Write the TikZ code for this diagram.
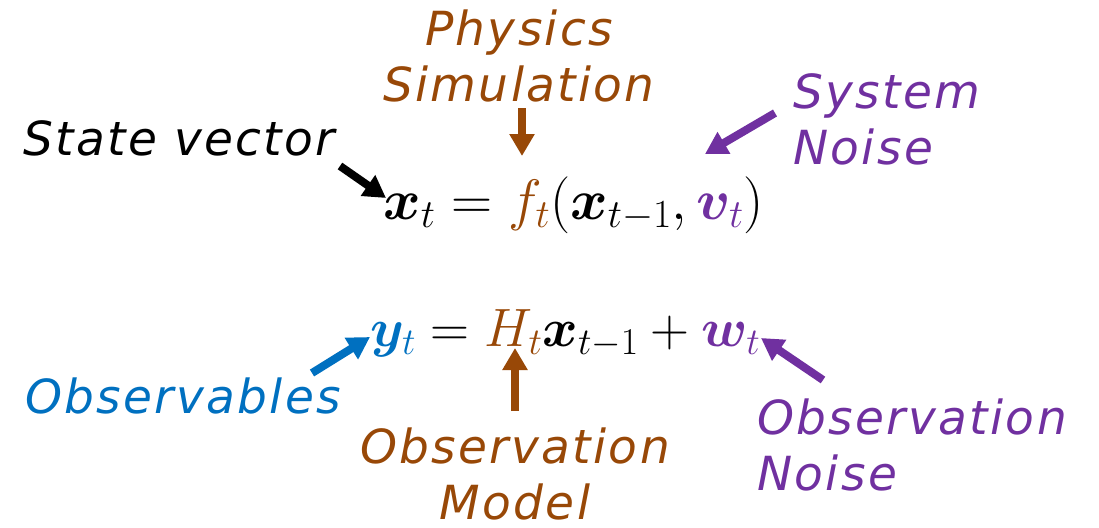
\RequirePackage{fix-cm}
\documentclass[tikz,border=0pt]{standalone}
\usepackage{amsmath}
\usepackage{bm}
\usepackage{fontspec}
\newfontfamily\handfont{DejaVu Sans}[LetterSpace=5]
\usetikzlibrary{arrows.meta}
\definecolor{brn}{HTML}{984807}
\definecolor{pur}{HTML}{7030A0}
\definecolor{blu}{HTML}{0070C0}
\tikzset{
  lbl/.style={inner sep=0pt, font=\handfont\itshape\fontsize{47}{56}\selectfont},
  eqn/.style={inner sep=0pt, font=\fontsize{57}{66}\selectfont},
  eqnb/.style={inner sep=0pt, font=\fontsize{54}{64}\selectfont},
  bigarrow/.style={line width=8pt, -{Triangle[width=24pt,length=22pt]}},
}
\begin{document}
\begin{tikzpicture}[x=1pt,y=-1pt]
\useasboundingbox (0,0) rectangle (1099,527);
% equations
\node[eqn, anchor=base west] (eq1) at (383,219)
  {$\bm{x}_t = {\color{brn}f_t}(\bm{x}_{t-1},{\color{pur}\bm{v}_t})$};
\node[eqnb, anchor=base west] (eq2) at (370,346)
  {${\color{blu}\bm{y}_t} = {\color{brn}H_t}\bm{x}_{t-1} + {\color{pur}\bm{w}_t}$};
% labels
\node[lbl, brn, align=center, anchor=north] (phys) at (519,10) {Physics\\Simulation};
\node[lbl, anchor=base west] (state) at (23,155) {State vector};
\node[lbl, pur, align=left, anchor=north west] (sysn) at (793,73) {System\\Noise};
\node[lbl, blu, anchor=base west] (obsv) at (25,413) {Observables};
\node[lbl, brn, align=center, anchor=north] (obsm) at (515,428) {Observation\\Model};
\node[lbl, pur, align=left, anchor=north west] (obsn) at (757,399) {Observation\\Noise};
% arrow ends
\coordinate (a1s) at (522,108); \coordinate (a1e) at (522,156);
\coordinate (a2s) at (340,166); \coordinate (a2e) at (386,198);
\coordinate (a3s) at (775,113); \coordinate (a3e) at (705,154);
\coordinate (a4s) at (312,373); \coordinate (a4e) at (370,337);
\coordinate (a5s) at (515,411); \coordinate (a5e) at (515,348);
\coordinate (a6s) at (823,380); \coordinate (a6e) at (761,338);
\draw[bigarrow, brn] (a1s) -- (a1e);
\draw[bigarrow, black] (a2s) -- (a2e);
\draw[bigarrow, pur] (a3s) -- (a3e);
\draw[bigarrow, blu] (a4s) -- (a4e);
\draw[bigarrow, brn] (a5s) -- (a5e);
\draw[bigarrow, pur] (a6s) -- (a6e);
\end{tikzpicture}
\end{document}
